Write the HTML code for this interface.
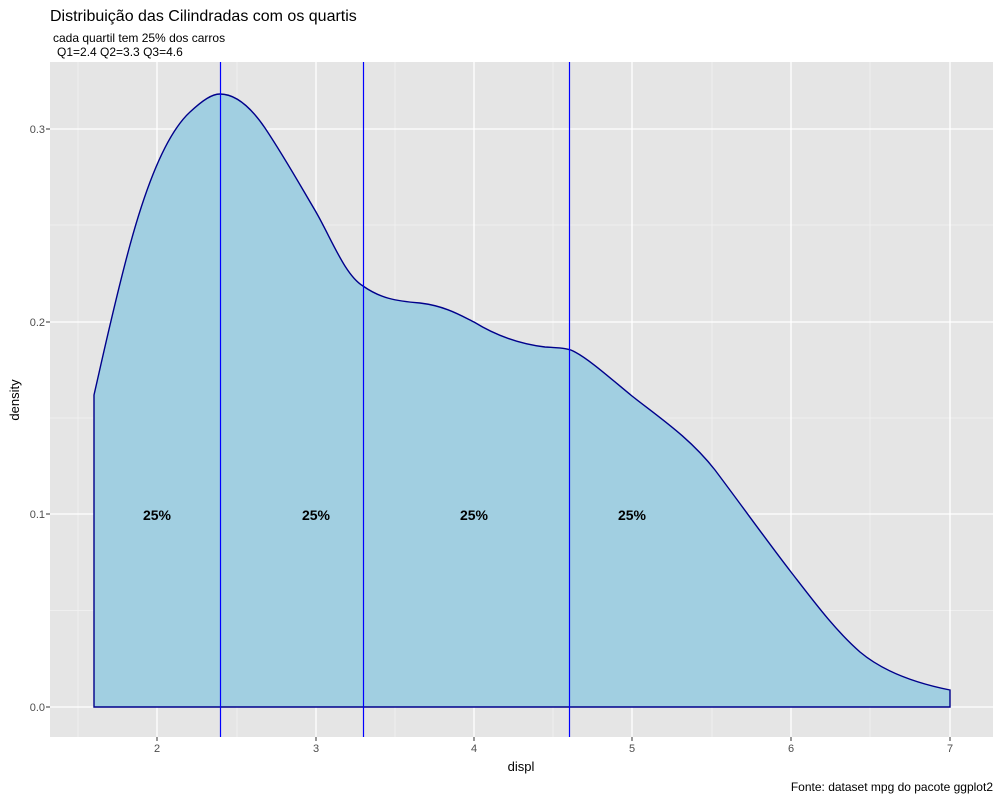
<!DOCTYPE html>
<html><head><meta charset="utf-8"><style>
body{margin:0;background:#fff;}
svg text{font-family:"Liberation Sans",Arial,sans-serif;}
</style></head><body>
<svg width="1000" height="800" xmlns="http://www.w3.org/2000/svg">
<rect width="1000" height="800" fill="#fff"/>
<text x="50" y="21" font-size="16" fill="#000">Distribuição das Cilindradas com os quartis</text>
<text x="53" y="42" font-size="12" fill="#000">cada quartil tem 25% dos carros</text>
<text x="57" y="56" font-size="12" fill="#000">Q1=2.4 Q2=3.3 Q3=4.6</text>
<rect x="50" y="62" width="943" height="675" fill="#e5e5e5"/>
<g stroke="#f2f2f2" stroke-width="0.7">
<line x1="50" x2="993" y1="610.5" y2="610.5"/><line x1="50" x2="993" y1="418" y2="418"/><line x1="50" x2="993" y1="225" y2="225"/>
<line x1="78" x2="78" y1="62" y2="737"/><line x1="237" x2="237" y1="62" y2="737"/><line x1="395" x2="395" y1="62" y2="737"/><line x1="553" x2="553" y1="62" y2="737"/><line x1="712" x2="712" y1="62" y2="737"/><line x1="870" x2="870" y1="62" y2="737"/>
</g>
<g stroke="#fff" stroke-width="1.3">
<line x1="50" x2="993" y1="707" y2="707"/><line x1="50" x2="993" y1="514" y2="514"/><line x1="50" x2="993" y1="322" y2="322"/><line x1="50" x2="993" y1="129" y2="129"/>
<line x1="157" x2="157" y1="62" y2="737"/><line x1="316" x2="316" y1="62" y2="737"/><line x1="474" x2="474" y1="62" y2="737"/><line x1="632" x2="632" y1="62" y2="737"/><line x1="791" x2="791" y1="62" y2="737"/><line x1="950" x2="950" y1="62" y2="737"/>
</g>
<path d="M94,707 L94,395 C102,360 115,300 130,245 C145,190 165,135 190,112 C203,100 212,94 220,94 C235,94 250,106 265,128 C285,158 300,185 316,212 C332,240 345,275 363,286 C380,298 395,301 420,303 C445,306 460,315 474,322 C495,335 520,344 545,347 C560,348 569,348 575,352 C590,360 610,378 632,396 C660,418 690,438 715,470 C745,510 770,545 791,572 C815,603 835,630 860,652 C885,673 920,684 950,690 L950,707 Z" fill="#a1cfe1" stroke="#00008b" stroke-width="1.4"/>
<g stroke="#0000ff" stroke-width="1.2">
<line x1="220.5" x2="220.5" y1="62" y2="737"/><line x1="363.5" x2="363.5" y1="62" y2="737"/><line x1="569.5" x2="569.5" y1="62" y2="737"/>
</g>
<g font-size="14" font-weight="bold" text-anchor="middle" fill="#000">
<text x="157" y="520">25%</text><text x="316" y="520">25%</text><text x="474" y="520">25%</text><text x="632" y="520">25%</text>
</g>
<g font-size="11" fill="#4d4d4d" text-anchor="end">
<text x="45" y="711">0.0</text><text x="45" y="518">0.1</text><text x="45" y="326">0.2</text><text x="45" y="133">0.3</text>
</g>
<g stroke="#333" stroke-width="1">
<line x1="46" x2="50" y1="707" y2="707"/><line x1="46" x2="50" y1="514" y2="514"/><line x1="46" x2="50" y1="322" y2="322"/><line x1="46" x2="50" y1="129" y2="129"/>
<line x1="157" x2="157" y1="737" y2="741"/><line x1="316" x2="316" y1="737" y2="741"/><line x1="474" x2="474" y1="737" y2="741"/><line x1="632" x2="632" y1="737" y2="741"/><line x1="791" x2="791" y1="737" y2="741"/><line x1="950" x2="950" y1="737" y2="741"/>
</g>
<g font-size="11" fill="#4d4d4d" text-anchor="middle">
<text x="157" y="752">2</text><text x="316" y="752">3</text><text x="474" y="752">4</text><text x="632" y="752">5</text><text x="791" y="752">6</text><text x="950" y="752">7</text>
</g>
<text x="521" y="771" font-size="13" text-anchor="middle">displ</text>
<text transform="translate(19,400) rotate(-90)" font-size="13" text-anchor="middle">density</text>
<text x="993" y="791" font-size="12" text-anchor="end">Fonte: dataset mpg do pacote ggplot2</text>
</svg>
</body></html>
